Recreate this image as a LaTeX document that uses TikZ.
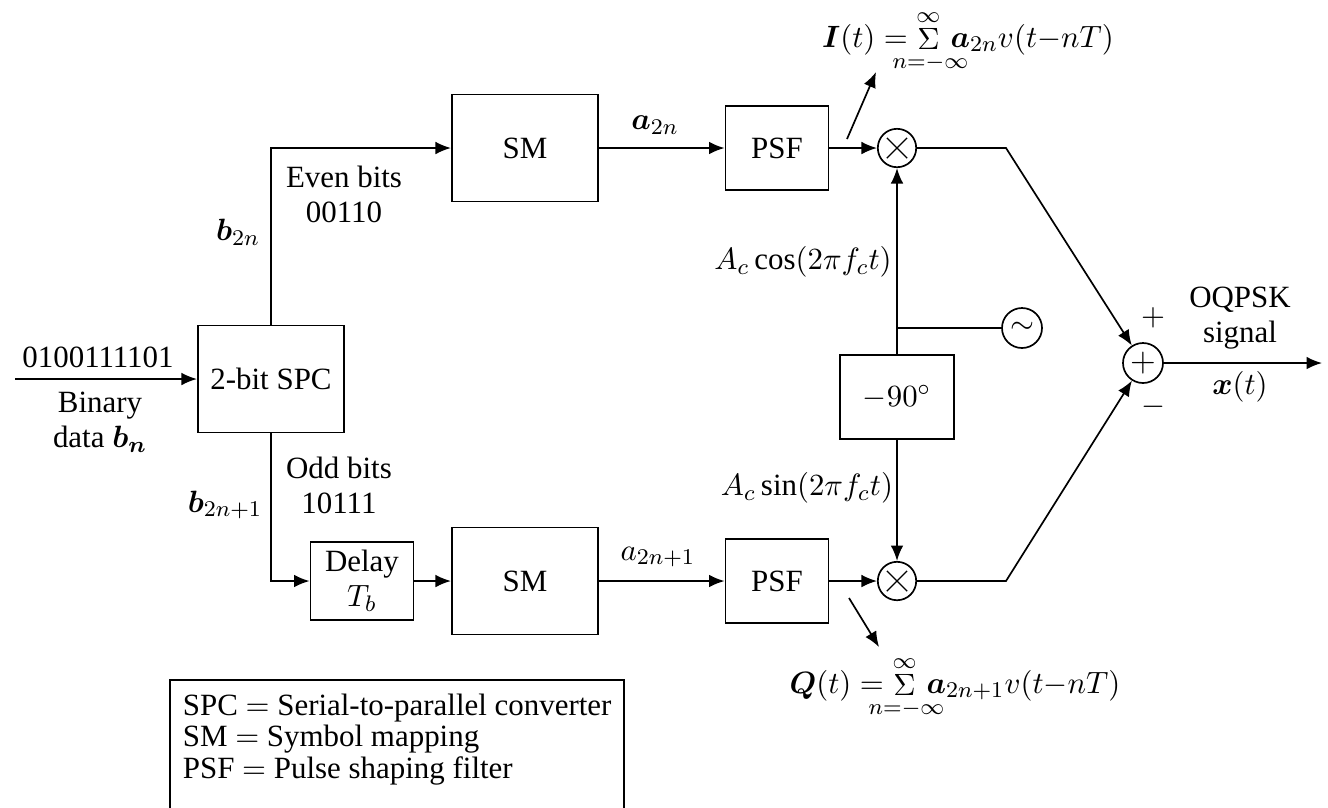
\documentclass[tikz,border=0pt]{standalone}
\usepackage{amsmath,mathtools,bm}
\usepackage{fontspec}
\setmainfont{Liberation Serif}
\usetikzlibrary{arrows.meta}

\begin{document}
\begin{tikzpicture}[x=0.0125cm,y=-0.0125cm,line width=0.6pt,
  every node/.style={font=\fontsize{11}{12.4}\selectfont},
  blk/.style={draw,minimum width=1.83cm,minimum height=1.34cm,align=center},
  sml/.style={draw,minimum width=1.29cm,minimum height=1.05cm,align=center},
  circ/.style={draw,circle,minimum size=0.48cm,inner sep=0pt},
  mul/.style={circ,path picture={\draw[line width=0.4pt]
      (path picture bounding box.center) +(-3.6pt,-3.6pt) -- +(3.6pt,3.6pt)
      +(-3.6pt,3.6pt) -- +(3.6pt,-3.6pt);}},
  a/.style={-{Latex[length=5.5pt,width=4.5pt]}}
]
\useasboundingbox (0,0) rectangle (1328,807);
\clip (0,0) rectangle (1328,807);

% blocks
\node[blk] (spc) at (271,379) {2-bit SPC};
\node[blk] (smA) at (525,148) {SM};
\node[blk] (smB) at (525,581) {SM};
\node[sml] (psfA) at (777,148) {PSF};
\node[sml] (psfB) at (777,581) {PSF};
\node[sml,minimum height=0.97cm,inner sep=1pt] (dly) at (362,581) {Delay\\$T_b$};
\node[sml,minimum width=1.43cm] (ph) at (897,397) {$-90^\circ$};
\node[mul] (mulA) at (897,148) {};
\node[mul] (mulB) at (897,581) {};
\node[circ,minimum size=0.5cm] (osc) at (1022,328) {$\sim$};
\node[circ,minimum size=0.5cm] (add) at (1143,363) {\large$+$};

% connectors
\coordinate (in) at (15,379);
\coordinate (jn) at (897,328);
\coordinate (kA) at (1006,148);
\coordinate (kB) at (1006,581);
\coordinate (out) at (1322,363);
\draw[a] (in) -- (spc.west);
\draw[a] (spc.north) |- (smA.west);
\draw[a] (spc.south) |- (dly.west);
\draw[a] (smA) -- (psfA); \draw[a] (psfA) -- (mulA);
\draw[a] (dly) -- (smB); \draw[a] (smB) -- (psfB); \draw[a] (psfB) -- (mulB);
\draw[a] (ph) -- (mulA); \draw[a] (ph) -- (mulB);
\draw (jn) -- (osc);
\draw[a] (mulA) -- (kA) -- (add);
\draw[a] (mulB) -- (kB) -- (add);
\draw[a] (add) -- (out);

% probe arrows
\coordinate (pA) at (847,139); \coordinate (qA) at (876,72);
\coordinate (pB) at (849,598); \coordinate (qB) at (879,647);
\draw[a] (pA) -- (qA);
\draw[a] (pB) -- (qB);

% labels
\node (bits) at (98,357) {0100111101};
\node[align=center] (bin) at (100,422) {Binary\\data $\bm{b_n}$};
\node (bev) at (238,232) {$\bm{b}_{2n}$};
\node[align=center] (ev) at (344,194) {Even bits\\00110};
\node (bod) at (225,505) {$\bm{b}_{2n+1}$};
\node[align=center] (od) at (339,485) {Odd bits\\10111};
\node (aev) at (655,125) {$\bm{a}_{2n}$};
\node (aod) at (658,557) {$a_{2n+1}$};
\node (cs) at (803,262) {$A_c\cos(2\pi f_c t)$};
\node (sn) at (807,488) {$A_c\sin(2\pi f_c t)$};
\node (It) at (968,42) {$\bm{I}(t)=\mathop{\Sigma}\limits_{\mathclap{\,n=-\infty}}^{\infty}\,\bm{a}_{2n}v(t{-}nT)$};
\node (Qt) at (955,688) {$\bm{Q}(t)=\mathop{\Sigma}\limits_{\mathclap{\,n=-\infty}}^{\infty}\,\bm{a}_{2n+1}v(t{-}nT)$};
\node (pl) at (1153,318) {$+$};
\node (mi) at (1153,407) {$-$};
\node[align=center] (sig) at (1240,318) {OQPSK\\signal};
\node (xt) at (1240,387) {$\bm{x}(t)$};

% legend
\node[anchor=north west,align=left,inner xsep=0.15cm,inner ysep=0.16cm,
      font=\fontsize{11}{11.23}\selectfont] (leg) at (170,680)
  {SPC $=$ Serial-to-parallel converter\\SM $=$ Symbol mapping\\PSF $=$ Pulse shaping filter};
\draw (leg.north west |- 0,830) -- (leg.north west) -- (leg.north east) -- (leg.north east |- 0,830);
\end{tikzpicture}
\end{document}
